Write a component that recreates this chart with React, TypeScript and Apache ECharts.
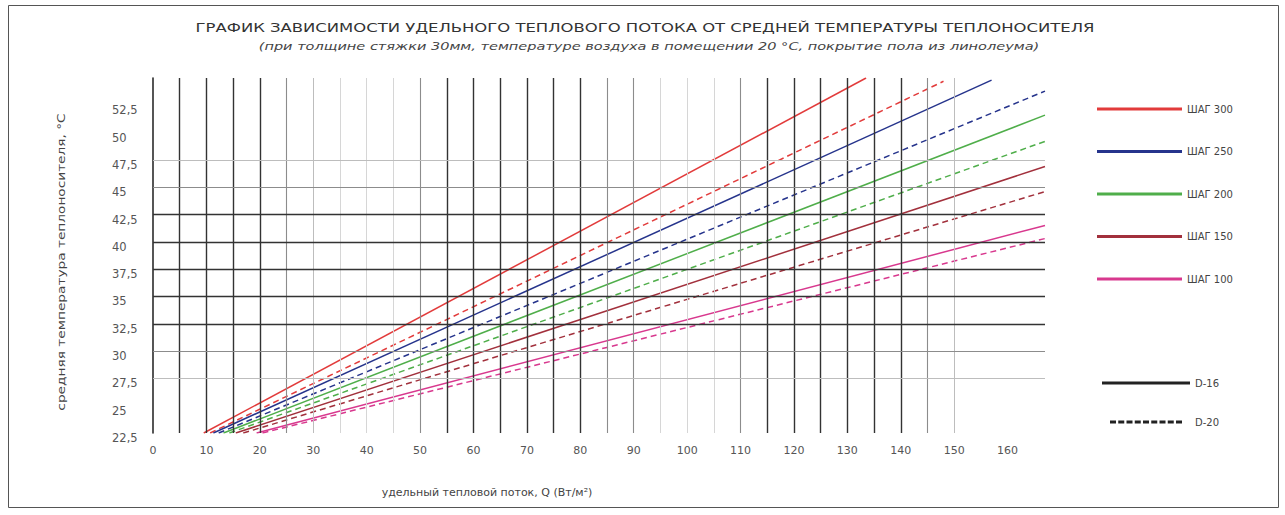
import React, { useEffect, useRef } from "react";
import * as echarts from "echarts";

const stepNames = ["ШАГ 300", "ШАГ 250", "ШАГ 200", "ШАГ 150", "ШАГ 100"];
const stepColors = ["#e23b3b", "#26348c", "#4fae4a", "#a2303c", "#d8388e"];
const startT = 22.5;
const d16Start = [9.5, 11.3, 13.2, 15.5, 19.4];
const d16End = [[133.5, 55], [157, 54.8], [167, 51.6], [167, 46.9], [167, 41.5]];
const d20Start = [10.7, 12.3, 14.3, 16.9, 20.5];
const d20End = [[148, 54.7], [167, 53.8], [167, 49.2], [167, 44.6], [167, 40.3]];

const titleText = "ГРАФИК ЗАВИСИМОСТИ УДЕЛЬНОГО ТЕПЛОВОГО ПОТОКА ОТ СРЕДНЕЙ ТЕМПЕРАТУРЫ ТЕПЛОНОСИТЕЛЯ";
const subtitleText = "(при толщине стяжки 30мм, температуре воздуха в помещении 20 °С, покрытие пола из линолеума)";
const xName = "удельный тепловой поток, Q (Вт/м²)";
const yName = "средняя температура теплоносителя, °С";

const vGridQ = [5, 10, 15, 20, 25, 30, 35, 40, 45, 50, 55, 60, 65, 70, 75, 80, 85, 90, 95, 100, 105, 110, 115, 120, 125, 130, 135, 140, 145, 150];
const vGridTone = ["d", "d", "d", "d", "m", "l", "f", "f", "f", "m", "d", "d", "d", "d", "d", "d", "m", "m", "f", "f", "f", "m", "d", "d", "d", "d", "d", "d", "m", "l"];
const hGridT = [27.5, 30, 32.5, 35, 37.5, 40, 42.5, 45, 47.5];
const hGridTone = ["l", "m", "d", "d", "d", "d", "d", "m", "l"];

const toneStyle: Record<string, { color: string; width: number }> = {
  d: { color: "#333333", width: 1.4 },
  m: { color: "#8c8c8c", width: 1.1 },
  l: { color: "#bdbdbd", width: 1 },
  f: { color: "#d6d6d6", width: 1 },
};

const FONT = "DejaVu Sans";

export default function App() {
  const ref = useRef<HTMLDivElement>(null);
  useEffect(() => {
    if (!ref.current) return;
    const chart = echarts.init(ref.current, undefined, { renderer: "svg" });

    const gridMarks = [
      ...vGridQ.map((q, i) => ({ xAxis: q, lineStyle: { ...toneStyle[vGridTone[i]], type: "solid" } })),
      ...hGridT.map((t, i) => ({ yAxis: t, lineStyle: { ...toneStyle[hGridTone[i]], type: "solid" } })),
    ];

    const series: any[] = [
      {
        name: "grid",
        type: "line",
        data: [],
        z: 1,
        silent: true,
        markLine: { symbol: "none", silent: true, label: { show: false }, data: gridMarks, animation: false },
      },
    ];
    stepNames.forEach((n, i) => {
      series.push({
        name: n,
        type: "line",
        z: 3,
        showSymbol: false,
        symbol: "none",
        color: stepColors[i],
        lineStyle: { color: stepColors[i], width: 1.5, type: "solid" },
        data: [[d16Start[i], startT], d16End[i]],
      });
      series.push({
        name: n,
        type: "line",
        z: 3,
        showSymbol: false,
        symbol: "none",
        color: stepColors[i],
        lineStyle: { color: stepColors[i], width: 1.5, type: [6, 4] },
        data: [[d20Start[i], startT], d20End[i]],
      });
    });
    series.push({ name: "D-16", type: "line", data: [], color: "#222", lineStyle: { color: "#222" } });
    series.push({ name: "D-20", type: "line", data: [], color: "#222", lineStyle: { color: "#222", type: [6, 4] } });

    const dashIcon = "path://M0,0h8v4h-8zM11,0h8v4h-8zM22,0h8v4h-8zM33,0h8v4h-8zM44,0h8v4h-8zM55,0h8v4h-8zM66,0h8v4h-8zM77,0h8v4h-8zM88,0h8v4h-8z";

    chart.setOption({
      animation: false,
      backgroundColor: "#fff",
      legend: [
        {
          data: stepNames,
          orient: "vertical",
          left: 1092,
          top: 99,
          icon: "rect",
          itemWidth: 85,
          itemHeight: 3,
          itemGap: 32.5,
          textStyle: { fontFamily: FONT, fontSize: 10, color: "#444" },
        },
        {
          data: [
            { name: "D-16", icon: "rect" },
            { name: "D-20", icon: dashIcon },
          ],
          orient: "vertical",
          left: 1097,
          top: 373,
          itemWidth: 88,
          itemHeight: 3,
          itemGap: 29,
          textStyle: { fontFamily: FONT, fontSize: 10, color: "#444" },
        },
      ],
      grid: { left: 153, top: 78, width: 892, height: 355, containLabel: false },
      xAxis: {
        type: "value",
        min: 0,
        max: 167,
        interval: 5,
        axisLine: { show: false },
        axisTick: { show: false },
        splitLine: { show: false },
        axisLabel: {
          fontFamily: FONT,
          fontSize: 11,
          color: "#555",
          margin: 12,
          showMaxLabel: false,
          formatter: (v: number) => (v % 10 === 0 ? String(v) : ""),
        },
      },
      yAxis: {
        type: "value",
        min: 22.5,
        max: 55,
        interval: 2.5,
        axisLine: { show: true, lineStyle: { color: "#2b2b2b", width: 1.6 } },
        axisTick: { show: false },
        splitLine: { show: false },
        axisLabel: {
          fontFamily: FONT,
          fontSize: 11.5,
          color: "#555",
          align: "left",
          verticalAlign: "top",
          lineHeight: 10,
          margin: 41,
          showMaxLabel: false,
          formatter: (v: number) => String(v).replace(".", ","),
        },
      },
      graphic: [
        {
          type: "rect",
          shape: { x: 8.5, y: 5.5, width: 1270, height: 502 },
          style: { fill: "none", stroke: "#555", lineWidth: 1 },
          silent: true,
        },
        {
          type: "text",
          x: 645,
          y: 28,
          scaleX: 1.37,
          style: { text: titleText, fontFamily: FONT, fontSize: 12, fill: "#333", align: "center", verticalAlign: "middle" },
          silent: true,
        },
        {
          type: "text",
          x: 649,
          y: 46,
          scaleX: 1.32,
          style: { text: subtitleText, fontFamily: FONT, fontSize: 11, fontStyle: "italic", fill: "#444", align: "center", verticalAlign: "middle" },
          silent: true,
        },
        {
          type: "text",
          x: 62,
          y: 262,
          rotation: Math.PI / 2,
          scaleX: 1.37,
          style: { text: yName, fontFamily: FONT, fontSize: 10, fill: "#444", align: "center", verticalAlign: "middle" },
          silent: true,
        },
        {
          type: "text",
          x: 487,
          y: 492,
          style: { text: xName, fontFamily: FONT, fontSize: 11, fill: "#444", align: "center", verticalAlign: "middle" },
          silent: true,
        },
      ],
      series,
    });
    return () => chart.dispose();
  }, []);
  return <div ref={ref} style={{ position: "fixed", left: 0, top: 0, width: 1285, height: 515 }} />;
}
